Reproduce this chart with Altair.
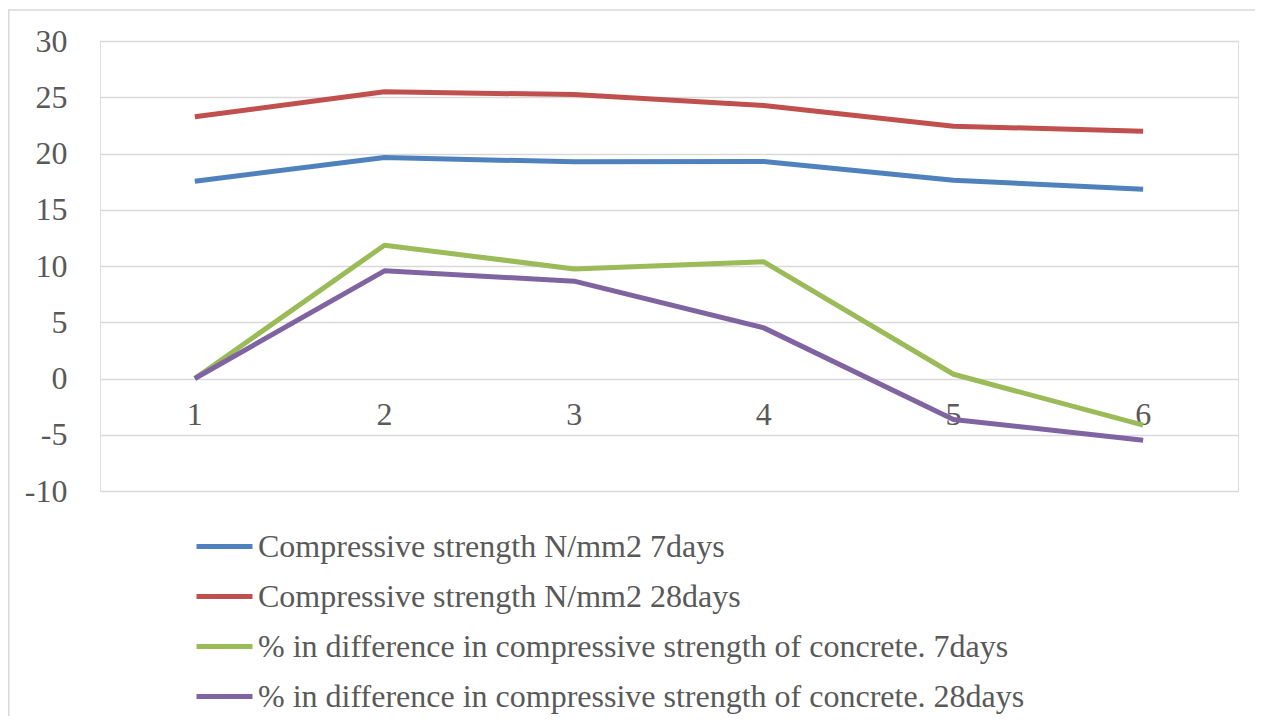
import altair as alt
import pandas as pd

categories = ["1", "2", "3", "4", "5", "6"]
series_names = [
    "Compressive strength N/mm2 7days",
    "Compressive strength N/mm2 28days",
    "% in difference in compressive strength of concrete. 7days",
    "% in difference in compressive strength of concrete. 28days",
]
strength_7 = [17.54, 19.64, 19.26, 19.29, 17.63, 16.83]
strength_28 = [23.26, 25.48, 25.24, 24.27, 22.43, 21.98]
diff_7 = [0.0, 11.85, 9.74, 10.37, 0.38, -4.15]
diff_28 = [0.0, 9.57, 8.65, 4.50, -3.64, -5.48]
colors = ["#4f81bd", "#c0504d", "#9bbb59", "#8064a2"]
y_ticks = [-10, -5, 0, 5, 10, 15, 20, 25, 30]

rows = []
for name, vals in zip(series_names, [strength_7, strength_28, diff_7, diff_28]):
    for c, v in zip(categories, vals):
        rows.append({"cat": c, "value": v, "series": name})
df = pd.DataFrame(rows)
cat_df = pd.DataFrame({"cat": categories})

FONT = "Liberation Serif"
GREY = "#595959"

x_enc = alt.X("cat:O", sort=categories, axis=None,
              scale=alt.Scale(type="point", padding=0.5))

lines = alt.Chart(df).mark_line(strokeWidth=5, strokeJoin="round").encode(
    x=x_enc,
    y=alt.Y("value:Q",
            scale=alt.Scale(domain=[-10, 30], nice=False, zero=False),
            axis=alt.Axis(values=y_ticks, title=None, domain=False, ticks=False,
                          labelExpr="'' + datum.value",
                          labelPadding=33, labelFont=FONT, labelFontSize=32,
                          labelColor=GREY, grid=True, gridColor="#d9d9d9",
                          gridWidth=1.5)),
    color=alt.Color("series:N", sort=series_names,
                    scale=alt.Scale(domain=series_names, range=colors),
                    legend=alt.Legend(title=None, orient="none", legendX=94, legendY=475,
                                      symbolType="stroke", symbolSize=3136,
                                      symbolStrokeWidth=5, labelFont=FONT,
                                      labelFontSize=32, labelColor=GREY,
                                      labelOffset=3, rowPadding=3, labelLimit=1200,
                                      padding=0)),
    order=alt.Order("cat:O"),
)

xlabels = alt.Chart(cat_df).mark_text(font=FONT, fontSize=32, color=GREY,
                                      baseline="alphabetic", dy=46.5).encode(
    x=x_enc,
    y=alt.datum(0),
    text="cat:N",
)

border_df = pd.DataFrame({"k": [0]})
top_border = alt.Chart(border_df).mark_rule(color="#d9d9d9", strokeWidth=1.5).encode(
    x=alt.value(-92), x2=alt.value(1160), y=alt.value(-31))
left_border = alt.Chart(border_df).mark_rule(color="#d9d9d9", strokeWidth=1.5).encode(
    x=alt.value(-91.2), y=alt.value(-31), y2=alt.value(700))

chart = alt.layer(top_border, left_border, xlabels, lines).properties(
    width=1138, height=450,
    autosize=alt.AutoSizeParams(type="none"),
    padding={"left": 92, "top": 33, "right": 17, "bottom": 225},
).configure_view(stroke=None).configure(background="white")

chart.save("out.html", embed_options={"renderer": "svg", "actions": False})
